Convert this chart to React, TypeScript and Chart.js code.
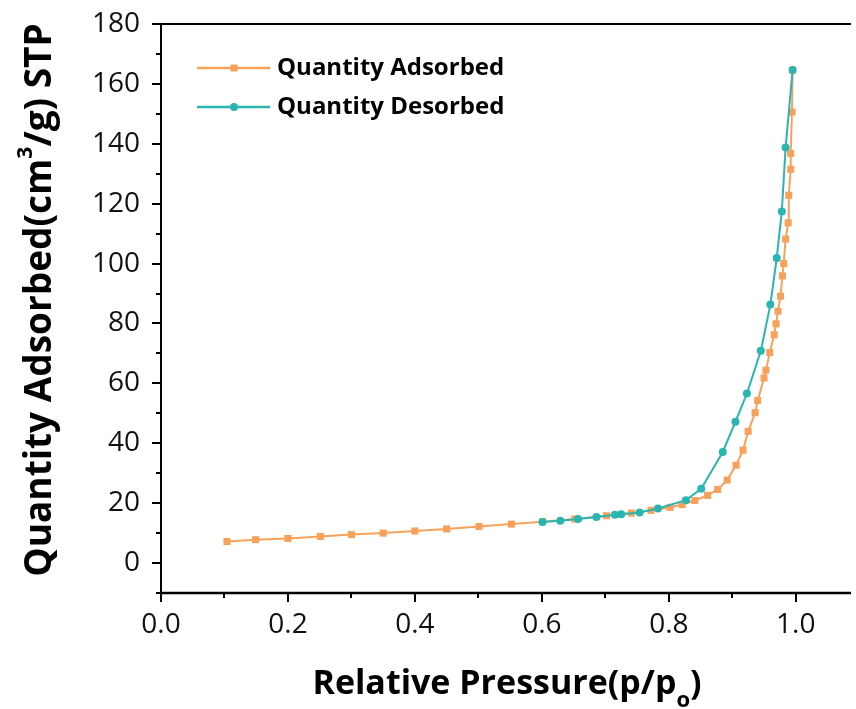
import React, { useEffect, useRef } from 'react';
import { Chart, registerables } from 'chart.js';

Chart.register(...registerables);

// Adsorption branch
const adsP = [0.104, 0.149, 0.2, 0.251, 0.3, 0.35, 0.4, 0.45, 0.501, 0.552, 0.601, 0.652, 0.702, 0.741, 0.772, 0.802, 0.821, 0.841, 0.861, 0.877, 0.892, 0.906, 0.917, 0.925, 0.936, 0.94, 0.95, 0.953, 0.959, 0.966, 0.969, 0.972, 0.976, 0.979, 0.981, 0.984, 0.988, 0.989, 0.992, 0.992, 0.994, 0.995];
const adsQ = [7.2, 7.8, 8.2, 8.9, 9.5, 10.0, 10.7, 11.4, 12.2, 13.0, 13.8, 14.7, 15.8, 16.7, 17.6, 18.6, 19.5, 20.9, 22.6, 24.6, 27.7, 32.7, 37.7, 44.0, 50.2, 54.3, 61.8, 64.4, 70.3, 76.2, 79.9, 84.1, 89.1, 95.9, 100.0, 108.2, 113.6, 122.8, 131.5, 136.8, 150.6, 164.6];

// Desorption branch
const desP = [0.995, 0.984, 0.978, 0.97, 0.96, 0.945, 0.923, 0.905, 0.885, 0.851, 0.827, 0.783, 0.754, 0.725, 0.715, 0.686, 0.657, 0.629, 0.601];
const desQ = [164.6, 138.8, 117.4, 101.9, 86.3, 70.9, 56.6, 47.2, 37.1, 24.8, 21.0, 18.2, 16.9, 16.3, 16.1, 15.4, 14.7, 14.1, 13.7];

const seriesNames = ['Quantity Adsorbed', 'Quantity Desorbed'];
const xMajor = [0, 0.2, 0.4, 0.6, 0.8, 1.0];
const xMinor = [0.1, 0.3, 0.5, 0.7, 0.9];
const yMajor = [0, 20, 40, 60, 80, 100, 120, 140, 160, 180];
const yMinor = [-10, 10, 30, 50, 70, 90, 110, 130, 150, 170];

const ORANGE = '#F7A25B';
const TEAL = '#2BB5B1';

const framePlugin = {
  id: 'frame',
  afterDraw(chart: any) {
    const { ctx, chartArea: a, scales } = chart;
    const x = scales.x;
    const y = scales.y;
    ctx.save();
    ctx.strokeStyle = '#000';
    ctx.lineWidth = 2;
    ctx.beginPath();
    ctx.moveTo(a.left, a.top);
    ctx.lineTo(a.left, a.bottom);
    ctx.moveTo(a.left, a.top);
    ctx.lineTo(a.right, a.top);
    ctx.stroke();
    ctx.lineWidth = 2.5;
    ctx.beginPath();
    ctx.moveTo(a.left - 1, a.bottom);
    ctx.lineTo(a.right, a.bottom);
    ctx.stroke();
    ctx.lineWidth = 2;
    ctx.beginPath();
    xMajor.forEach((v) => {
      const px = Math.round(x.getPixelForValue(v));
      ctx.moveTo(px, a.bottom);
      ctx.lineTo(px, a.bottom + 9);
    });
    xMinor.forEach((v) => {
      const px = Math.round(x.getPixelForValue(v));
      ctx.moveTo(px, a.bottom);
      ctx.lineTo(px, a.bottom + 5);
    });
    yMajor.forEach((v) => {
      const py = Math.round(y.getPixelForValue(v));
      ctx.moveTo(a.left, py);
      ctx.lineTo(a.left - 9, py);
    });
    yMinor.forEach((v) => {
      const py = Math.round(y.getPixelForValue(v));
      ctx.moveTo(a.left, py);
      ctx.lineTo(a.left - 5, py);
    });
    ctx.stroke();

    // Legend
    const items = [
      { name: seriesNames[0], color: ORANGE, style: 'rect', yy: 68 },
      { name: seriesNames[1], color: TEAL, style: 'circle', yy: 107 },
    ];
    items.forEach((it) => {
      ctx.strokeStyle = it.color;
      ctx.lineWidth = 2.5;
      ctx.beginPath();
      ctx.moveTo(197, it.yy);
      ctx.lineTo(270, it.yy);
      ctx.stroke();
      ctx.fillStyle = it.color;
      if (it.style === 'rect') {
        ctx.fillRect(234 - 3.5, it.yy - 3.5, 7, 7);
      } else {
        ctx.beginPath();
        ctx.arc(234, it.yy, 4, 0, Math.PI * 2);
        ctx.fill();
      }
      ctx.fillStyle = '#000';
      ctx.font = 'bold 24px "Open Sans"';
      ctx.textAlign = 'left';
      ctx.textBaseline = 'middle';
      ctx.fillText(it.name, 277, it.yy);
    });

    // X title
    ctx.fillStyle = '#000';
    ctx.textBaseline = 'alphabetic';
    ctx.textAlign = 'left';
    const bigX = 'bold 34px "Open Sans"';
    const smallX = 'bold 22px "Open Sans"';
    const part1 = 'Relative Pressure(p/p';
    const sub = 'o';
    const part2 = ')';
    ctx.font = bigX;
    const w1 = ctx.measureText(part1).width;
    const w3 = ctx.measureText(part2).width;
    ctx.font = smallX;
    const w2 = ctx.measureText(sub).width;
    const total = w1 + w2 + w3;
    let sx = 507 - total / 2;
    const base = 694;
    ctx.font = bigX;
    ctx.fillText(part1, sx, base);
    sx += w1;
    ctx.font = smallX;
    ctx.fillText(sub, sx, base + 13);
    sx += w2;
    ctx.font = bigX;
    ctx.fillText(part2, sx, base);

    // Y title
    ctx.save();
    ctx.translate(51, 300);
    ctx.rotate(-Math.PI / 2);
    const bigY = 'bold 37px "Open Sans"';
    const smallY = 'bold 21px "Open Sans"';
    const ya = 'Quantity Adsorbed(cm';
    const ysup = '3';
    const yb = '/g) STP';
    ctx.font = bigY;
    const yaW = ctx.measureText(ya).width;
    const ybW = ctx.measureText(yb).width;
    ctx.font = smallY;
    const ysupW = ctx.measureText(ysup).width;
    const ytot = yaW + ysupW + ybW;
    let tx = -ytot / 2;
    ctx.font = bigY;
    ctx.fillText(ya, tx, 0);
    tx += yaW;
    ctx.font = smallY;
    ctx.fillText(ysup, tx, -19);
    tx += ysupW;
    ctx.font = bigY;
    ctx.fillText(yb, tx, 0);
    ctx.restore();

    ctx.restore();
  },
};

export default function App() {
  const ref = useRef<HTMLCanvasElement | null>(null);
  useEffect(() => {
    if (!ref.current) return;
    const chart = new Chart(ref.current, {
      type: 'line',
      data: {
        datasets: [
          {
            label: seriesNames[0],
            data: adsP.map((p, i) => ({ x: p, y: adsQ[i] })),
            borderColor: ORANGE,
            backgroundColor: ORANGE,
            borderWidth: 2,
            pointStyle: 'rect',
            pointRadius: 5,
            pointBorderWidth: 0,
            tension: 0,
            order: 2,
          },
          {
            label: seriesNames[1],
            data: desP.map((p, i) => ({ x: p, y: desQ[i] })),
            borderColor: TEAL,
            backgroundColor: TEAL,
            borderWidth: 2,
            pointStyle: 'circle',
            pointRadius: 4,
            pointBorderWidth: 0,
            tension: 0,
            order: 1,
          },
        ],
      },
      options: {
        animation: false,
        responsive: false,
        devicePixelRatio: 1,
        layout: { padding: { top: 24, right: 0, left: 0, bottom: 0 } },
        plugins: { legend: { display: false }, tooltip: { enabled: false } },
        scales: {
          x: {
            type: 'linear',
            min: 0,
            max: 1.087,
            grid: { display: false, drawTicks: true, tickLength: 15 },
            border: { display: false },
            afterBuildTicks: (s: any) => {
              s.ticks = xMajor.map((v) => ({ value: v }));
            },
            afterFit: (s: any) => {
              s.height = 116;
            },
            ticks: {
              padding: 0,
              color: '#111',
              font: { family: '"Open Sans"', size: 28 },
              maxRotation: 0,
              autoSkip: false,
              callback: (v: any) => Number(v).toFixed(1),
            },
          },
          y: {
            type: 'linear',
            min: -10,
            max: 180,
            grid: { display: false, drawTicks: true, tickLength: 21 },
            border: { display: false },
            afterBuildTicks: (s: any) => {
              s.ticks = yMajor.map((v) => ({ value: v }));
            },
            afterFit: (s: any) => {
              s.width = 161;
            },
            ticks: {
              padding: 0,
              color: '#111',
              font: { family: '"Open Sans"', size: 28 },
              autoSkip: false,
              callback: (v: any) => String(v),
            },
          },
        },
      },
      plugins: [framePlugin],
    });
    return () => chart.destroy();
  }, []);
  return (
    <div style={{ position: 'fixed', left: 0, top: 0, width: 856, height: 709, background: '#fff' }}>
      <canvas ref={ref} width={856} height={709} style={{ width: 856, height: 709 }} />
    </div>
  );
}
